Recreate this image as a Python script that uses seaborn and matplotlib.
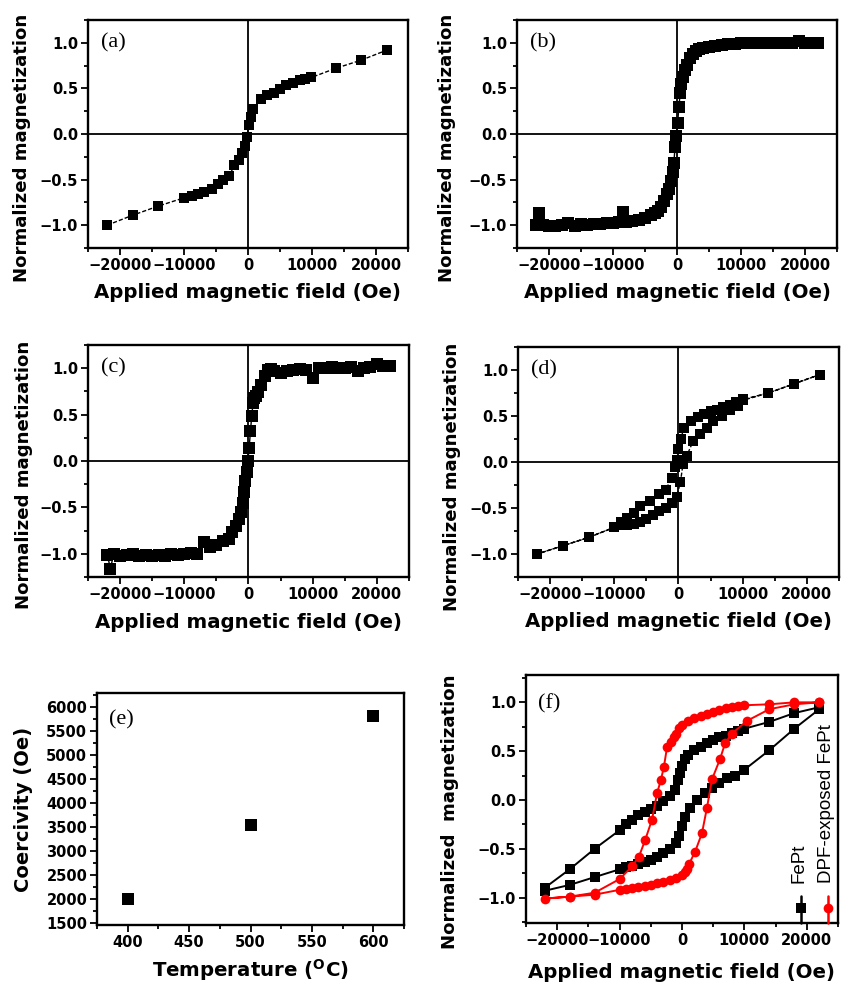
import numpy as np
import pandas as pd
import matplotlib
matplotlib.use("Agg")
import matplotlib.pyplot as plt
from matplotlib.ticker import MultipleLocator
import seaborn as sns

sns.set_theme(style="ticks")
plt.rcParams['font.family'] = ['DejaVu Sans']
plt.rcParams['axes.unicode_minus'] = True
for k in ["text.color", "axes.labelcolor", "xtick.color", "ytick.color", "axes.edgecolor"]:
    plt.rcParams[k] = "black"

# ---------------- data ----------------
# (a)
a_x = [-22000, -18000, -14000, -10000, -8800, -7800, -6800, -5700, -4700, -3950, -2900, -2150,
       -1400, -870, -460, -200, 150, 500, 820, 2050, 3000, 4000, 5000, 6000, 7100, 8100, 8900,
       9900, 13700, 17700, 21700]
a_y = [-1.0, -0.89, -0.79, -0.70, -0.68, -0.66, -0.64, -0.60, -0.55, -0.50, -0.46, -0.34,
       -0.28, -0.21, -0.13, -0.03, 0.10, 0.19, 0.27, 0.38, 0.43, 0.45, 0.49, 0.54, 0.56, 0.59, 0.60,
       0.62, 0.72, 0.81, 0.92]

# (b)
b_x = [-22000, -21500, -21000, -20000, -19000, -18000, -17000, -16000, -15000, -14000, -13000,
       -12000, -11000, -10000, -9000, -8500, -8000, -7000, -6000, -5000, -4000, -3500, -3000,
       -2500, -2000, -1500, -1200, -900, -700, -500, -300, -100, 100, 300, 500, 700, 900, 1200,
       1500, 2000, 2500, 3000, 3500, 4000, 5000, 6000, 7000, 8000, 9000, 10000, 11000, 12000,
       13000, 14000, 15000, 16000, 17000, 18000, 19000, 20000, 21000, 22000]
b_y = [-1.0, -0.87, -1.0, -1.01, -1.01, -1.0, -0.98, -1.01, -0.99, -1.0, -0.99, -0.99, -0.98,
       -0.98, -0.96, -0.86, -0.97, -0.95, -0.94, -0.92, -0.89, -0.87, -0.84, -0.80, -0.74, -0.66,
       -0.60, -0.52, -0.42, -0.32, -0.14, -0.02, 0.12, 0.30, 0.45, 0.55, 0.62, 0.70, 0.76, 0.83,
       0.88, 0.91, 0.93, 0.94, 0.95, 0.97, 0.98, 0.99, 0.99, 1.0, 1.0, 1.0, 1.0, 1.0, 1.0, 1.0,
       1.0, 1.0, 1.02, 1.0, 1.0, 1.0]

# (c)
c_x = [-22000, -21500, -21000, -20000, -19000, -18000, -17000, -16000, -15000, -14000, -13000,
       -12000, -11000, -10000, -9000, -8000, -7000, -6000, -5000, -4000, -3000, -2500, -2000,
       -1500, -1200, -900, -700, -500, -300, -100, 100, 300, 500, 700, 900, 1200, 1500, 2000,
       2500, 3000, 3500, 4000, 5000, 6000, 7000, 8000, 9000, 10000, 11000, 12000, 13000, 14000,
       15000, 16000, 17000, 18000, 19000, 20000, 21000, 22000]
c_y = [-1.01, -1.16, -1.0, -1.02, -1.01, -1.0, -1.02, -1.01, -1.02, -1.01, -1.02, -1.0, -1.01,
       -1.0, -0.99, -1.0, -0.87, -0.93, -0.90, -0.86, -0.84, -0.76, -0.70, -0.62, -0.55, -0.45,
       -0.33, -0.22, -0.12, 0.0, 0.14, 0.32, 0.48, 0.62, 0.68, 0.70, 0.74, 0.82, 0.92, 0.98, 0.99,
       0.97, 0.95, 0.97, 0.98, 0.99, 0.98, 0.89, 1.0, 1.0, 1.01, 1.0, 1.0, 1.01, 0.97, 1.0, 1.01,
       1.04, 1.02, 1.02]

# (d) full loop: descending then ascending
d_x = [22000, 18000, 14000, 10000, 9000, 8000, 7000, 6000, 5000, 4000, 3000, 2000, 800, 400, 0,
       -300, -600, -1000, -2000, -3000, -4500, -6000, -7000, -8000, -9000, -10000, -14000, -18000,
       -22000,
       -18000, -14000, -10000, -9000, -8000, -7000, -6000, -5000, -4000, -3000, -2000, -1000,
       -300, 300, 700, 1300, 2300, 3400, 4400, 5400, 6700, 8000, 9300, 10000, 14000, 18000, 22000]
d_y = [0.95, 0.85, 0.75, 0.68, 0.65, 0.62, 0.60, 0.57, 0.55, 0.52, 0.49, 0.45, 0.37, 0.25, 0.14,
       0.02, -0.05, -0.17, -0.30, -0.35, -0.42, -0.48, -0.55, -0.61, -0.65, -0.71, -0.82, -0.91,
       -1.0,
       -0.91, -0.82, -0.71, -0.69, -0.68, -0.67, -0.65, -0.62, -0.58, -0.53, -0.50, -0.45,
       -0.38, -0.22, -0.02, 0.07, 0.23, 0.30, 0.37, 0.45, 0.50, 0.56, 0.61, 0.67, 0.75, 0.85, 0.95]

# (e)
e_temp = [400, 500, 600]
e_coer = [2000, 3550, 5820]

# (f) FePt loop
f_fept_x = [22000, 18000, 14000, 10000, 9000, 8000, 7000, 6000, 5000, 4000, 3000, 2000, 1000,
            500, 0, -300, -600, -1100, -2000, -3000, -4000, -5000, -6000, -7000, -8000, -9000,
            -10000, -14000, -18000, -22000,
            -22000, -18000, -14000, -10000, -9000, -8000, -7000, -6000, -5000, -4000, -3000,
            -2000, -1000, -500, 0, 500, 1300, 2400, 3700, 4800, 5900, 7200, 8500, 10000, 14000,
            18000, 22000]
f_fept_y = [0.95, 0.89, 0.80, 0.73, 0.71, 0.69, 0.66, 0.64, 0.61, 0.58, 0.54, 0.51, 0.46,
            0.42, 0.35, 0.28, 0.20, 0.10, 0.04, -0.01, -0.06, -0.09, -0.12, -0.15, -0.20, -0.25,
            -0.31, -0.50, -0.71, -0.90,
            -0.93, -0.87, -0.79, -0.71, -0.69, -0.68, -0.66, -0.64, -0.61, -0.58, -0.54,
            -0.50, -0.44, -0.37, -0.27, -0.17, -0.08, 0.0, 0.07, 0.12, 0.17, 0.22, 0.25, 0.31, 0.51,
            0.73, 0.93]

# (f) DPF-exposed FePt loop
f_dpf_x = [22000, 18000, 14000, 10000, 9000, 8000, 7000, 6000, 5000, 4000, 3000, 2000, 1000, 0,
           -500, -1000, -1300, -1800, -2400, -2900, -3400, -4000, -4800, -5900, -6900, -8000,
           -10000, -14000, -18000, -22000,
           -18000, -14000, -10000, -9000, -8000, -7000, -6000, -5000, -4000, -3000, -2000, -1000,
           0, 500, 800, 1100, 2100, 3200, 4000, 4800, 6100, 6900, 8000, 10400, 14000, 18000, 22000]
f_dpf_y = [1.0, 1.0, 0.98, 0.97, 0.96, 0.95, 0.94, 0.92, 0.90, 0.88, 0.86, 0.84, 0.81, 0.77,
           0.74, 0.68, 0.64, 0.59, 0.54, 0.34, 0.20, 0.07, -0.20, -0.41, -0.58, -0.68,
           -0.81, -0.95, -0.99, -1.01,
           -0.99, -0.97, -0.92, -0.91, -0.90, -0.89, -0.88, -0.87, -0.85, -0.84, -0.82, -0.80,
           -0.77, -0.74, -0.71, -0.66, -0.53, -0.34, -0.08, 0.21, 0.42, 0.58, 0.68, 0.81, 0.93,
           0.98, 1.0]

panel_labels = ["(a)", "(b)", "(c)", "(d)", "(e)", "(f)"]
xlab = "Applied magnetic field (Oe)"
ylab = "Normalized magnetization"

# ---------------- figure ----------------
W, H = 845, 982
fig = plt.figure(figsize=(W / 100, H / 100), dpi=100)
fig.patch.set_facecolor("white")


def add_ax(x0, y0, x1, y1):
    return fig.add_axes([x0 / W, 1 - y1 / H, (x1 - x0) / W, (y1 - y0) / H])


tick_font = dict(family="DejaVu Sans", weight="bold", size=10.5)


def style(ax, xlim, ylim, xmaj, xmin, ymaj, ymin, xl, yl, ylc, xlc, plabel, plabel_pos,
          ysize=13.1, xsize=14.2, ylc_y=0.44):
    ax.set_xlim(*xlim)
    ax.set_ylim(*ylim)
    ax.xaxis.set_major_locator(MultipleLocator(xmaj))
    ax.xaxis.set_minor_locator(MultipleLocator(xmin))
    ax.yaxis.set_major_locator(MultipleLocator(ymaj))
    ax.yaxis.set_minor_locator(MultipleLocator(ymin))
    ax.tick_params(which="both", direction="out", top=False, right=False, width=1.3,
                   colors="black", pad=2)
    ax.tick_params(which="major", length=5)
    ax.tick_params(which="minor", length=3)
    for lab in ax.get_xticklabels() + ax.get_yticklabels():
        lab.set_fontfamily(tick_font["family"])
        lab.set_fontweight(tick_font["weight"])
        lab.set_fontsize(tick_font["size"])
        lab.set_color("black")
    for s in ax.spines.values():
        s.set_visible(True)
        s.set_linewidth(1.7)
        s.set_color("black")
    ax.set_xlabel(xl, family="DejaVu Sans", weight="bold", size=xsize, color="black")
    ax.set_ylabel(yl, family="DejaVu Sans", weight="bold", size=ysize, color="black")
    ax.yaxis.label.set_va("center")
    ax.xaxis.label.set_va("center")
    ax.yaxis.set_label_coords(ylc, ylc_y)
    ax.xaxis.set_label_coords(0.5, xlc)
    ax.text(plabel_pos[0], plabel_pos[1], plabel, transform=ax.transAxes,
            family="Liberation Serif", fontsize=16, ha="left", va="center", color="black")
    ax.grid(False)


mag_kw = dict(xlim=(-25000, 25000), ylim=(-1.25, 1.25), xmaj=10000, xmin=5000,
              ymaj=0.5, ymin=0.25)

# (a)
axa = add_ax(88, 20, 408, 248)
axa.axhline(0, color="black", lw=1.3, zorder=1)
axa.axvline(0, color="black", lw=1.3, zorder=1)
sns.lineplot(x=a_x, y=a_y, sort=False, estimator=None, ax=axa, color="black", lw=1.0,
             linestyle=(0, (3, 1.5)), marker="s", markersize=7.5, markeredgewidth=0, zorder=3)
style(axa, **mag_kw, xl=xlab, yl=ylab, ylc=-0.205, xlc=-0.195, plabel="(a)",
      plabel_pos=(0.04, 0.9))

# (b)
axb = add_ax(517, 20, 837, 248)
axb.axhline(0, color="black", lw=1.3, zorder=1)
axb.axvline(0, color="black", lw=1.3, zorder=1)
sns.lineplot(x=b_x, y=b_y, sort=False, estimator=None, ax=axb, color="black", lw=1.0,
             marker="s", markersize=8, markeredgewidth=0, zorder=3)
style(axb, **mag_kw, xl=xlab, yl=ylab, ylc=-0.22, xlc=-0.195, plabel="(b)",
      plabel_pos=(0.04, 0.9))

# (c)
axc = add_ax(88, 345, 409, 577)
axc.axhline(0, color="black", lw=1.3, zorder=1)
axc.axvline(0, color="black", lw=1.3, zorder=1)
sns.lineplot(x=c_x, y=c_y, sort=False, estimator=None, ax=axc, color="black", lw=1.0,
             marker="s", markersize=8, markeredgewidth=0, zorder=3)
style(axc, **mag_kw, xl=xlab, yl=ylab, ylc=-0.2, xlc=-0.194, plabel="(c)",
      plabel_pos=(0.04, 0.9))

# (d)
axd = add_ax(518, 347, 839, 577)
axd.axhline(0, color="black", lw=1.3, zorder=1)
axd.axvline(0, color="black", lw=1.3, zorder=1)
sns.lineplot(x=d_x, y=d_y, sort=False, estimator=None, ax=axd, color="black", lw=1.0,
             linestyle=(0, (3, 1.5)), marker="s", markersize=7.5, markeredgewidth=0, zorder=3)
style(axd, **mag_kw, xl=xlab, yl=ylab, ylc=-0.206, xlc=-0.194, plabel="(d)",
      plabel_pos=(0.04, 0.9), ylc_y=0.435)

# (e)
axe = add_ax(97, 693, 404, 925)
sns.scatterplot(x=e_temp, y=e_coer, ax=axe, color="black", marker="s", s=80, linewidth=0,
                zorder=3)
style(axe, xlim=(375, 625), ylim=(1460, 6290), xmaj=50, xmin=25, ymaj=500, ymin=250,
      xl=r"Temperature ($^{\mathbf{O}}$C)", yl="Coercivity (Oe)", ylc=-0.241, xlc=-0.194,
      plabel="(e)", plabel_pos=(0.04, 0.885), ysize=14, ylc_y=0.5)

# (f)
axf = add_ax(526, 675, 838, 923)
df_f = pd.concat([
    pd.DataFrame({"H": f_fept_x, "M": f_fept_y, "sample": "FePt"}),
    pd.DataFrame({"H": f_dpf_x, "M": f_dpf_y, "sample": "DPF-exposed FePt"}),
], ignore_index=True)
sns.lineplot(data=df_f[df_f["sample"] == "FePt"], x="H", y="M", sort=False, estimator=None,
             ax=axf, color="black", lw=1.4, marker="s", markersize=7, markeredgewidth=0,
             zorder=3)
sns.lineplot(data=df_f[df_f["sample"] == "DPF-exposed FePt"], x="H", y="M", sort=False,
             estimator=None, ax=axf, color="red", lw=1.4, marker="o", markersize=7,
             markeredgewidth=0, zorder=4)
style(axf, xlim=(-25000, 25000), ylim=(-1.26, 1.28), xmaj=10000, xmin=5000, ymaj=0.5,
      ymin=0.25, xl=xlab, yl="Normalized  magnetization", ylc=-0.244, xlc=-0.198,
      plabel="(f)", plabel_pos=(0.04, 0.885), ylc_y=0.45)

# vertical legend in (f)
for xf, col, mk, name in [(0.881, "black", "s", "FePt"),
                          (0.968, "red", "o", "DPF-exposed FePt")]:
    axf.plot([xf, xf], [0.0, 0.11], transform=axf.transAxes, color=col, lw=1.8,
             clip_on=False, zorder=5)
    axf.plot([xf], [0.06], transform=axf.transAxes, color=col, marker=mk, markersize=7,
             markeredgewidth=0, clip_on=False, zorder=5)
    axf.text(xf - 0.005, 0.16, name, transform=axf.transAxes, rotation=90, ha="center",
             va="bottom", family="Liberation Sans", fontsize=13.5, color="black")

fig.savefig("out.png", dpi=100, facecolor="white")
